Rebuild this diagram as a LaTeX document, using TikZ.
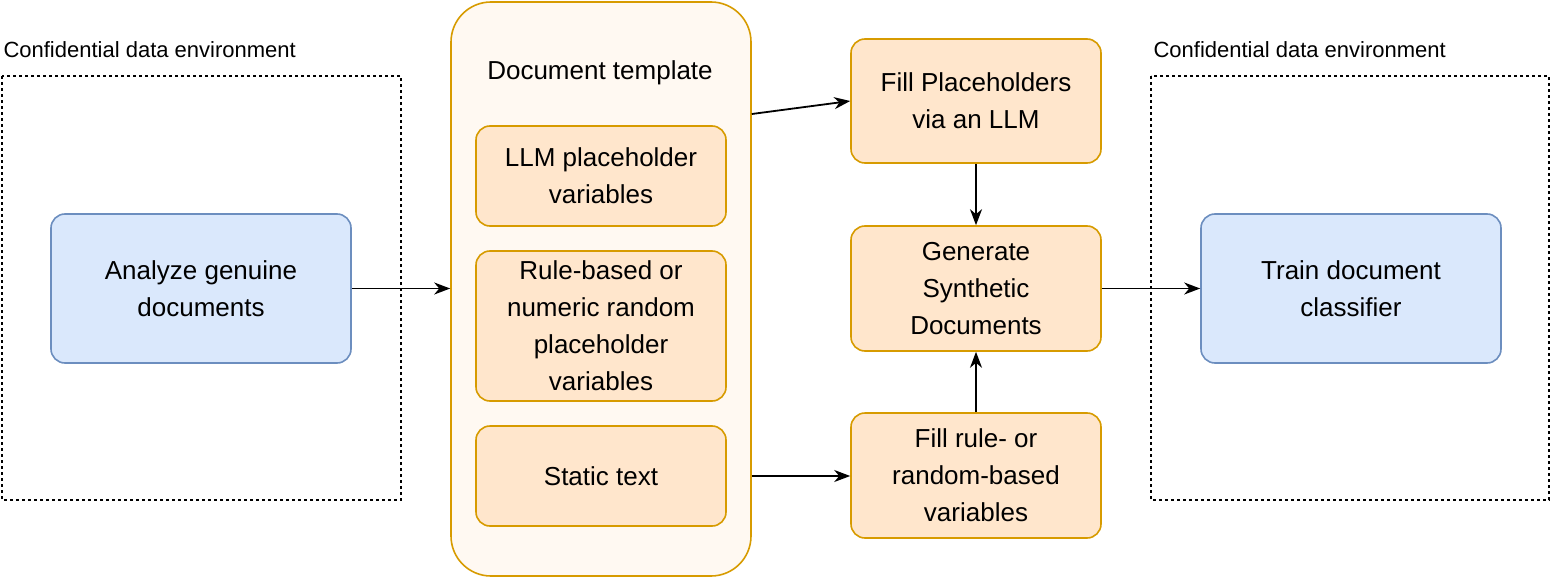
\documentclass[tikz,border=0pt]{standalone}
\usepackage{fontspec}
\setmainfont{Liberation Sans}
\usetikzlibrary{arrows.meta}
\definecolor{bfill}{HTML}{DAE8FC}\definecolor{bdraw}{HTML}{6C8EBF}
\definecolor{ofill}{HTML}{FFE6CC}\definecolor{odraw}{HTML}{D79B00}
\definecolor{tfill}{HTML}{FFF9F2}
\begin{document}
\begin{tikzpicture}[x=1pt,y=-1pt,
  box/.style={draw,line width=1.6pt,rounded corners=14pt,align=center,font=\fontsize{26}{37}\selectfont},
  blue/.style={box,fill=bfill,draw=bdraw},
  org/.style={box,fill=ofill,draw=odraw},
  env/.style={draw,dashed,line width=1.6pt},
  lbl/.style={anchor=west,font=\fontsize{22}{26}\selectfont},
  arr/.style={-{Stealth[length=16pt,width=12pt,inset=5pt]},line width=1.8pt}]
\useasboundingbox (0,0) rectangle (1553,578);
\draw[env] (2,76) rectangle (401,500);
\draw[env] (1151,76) rectangle (1549,500);
\node[lbl] (l1) at (0,50) {Confidential data environment};
\node[lbl] (l2) at (1150,50) {Confidential data environment};
\node[blue,minimum width=300pt,minimum height=149pt] (an) at (201,288.5) {Analyze genuine\\documents};
\node[blue,minimum width=300pt,minimum height=149pt] (tr) at (1351,288.5) {Train document\\classifier};
\node[box,fill=tfill,draw=odraw,rounded corners=40pt,minimum width=300pt,minimum height=574pt] (tp) at (601,289) {};
\node[font=\fontsize{26}{37}\selectfont] (tt) at (600,73) {Document template};
\node[org,minimum width=250pt,minimum height=100pt] (v1) at (601,176) {LLM placeholder\\variables};
\node[org,minimum width=250pt,minimum height=150pt] (v2) at (601,326) {Rule-based or\\numeric random\\placeholder\\variables};
\node[org,minimum width=250pt,minimum height=100pt] (v3) at (601,476) {Static text};
\node[org,minimum width=250pt,minimum height=124pt] (fp) at (976,101) {Fill Placeholders\\via an LLM};
\node[org,minimum width=250pt,minimum height=125pt] (gs) at (976,288.5) {Generate\\Synthetic\\Documents};
\node[org,minimum width=250pt,minimum height=125pt] (fr) at (976,475.5) {Fill rule- or\\random-based\\variables};
\draw[arr] (an.east) -- (an.east -| tp.west);
\draw[arr] ([yshift=-13pt]tp.east |- fp.west) -- (fp.west);
\draw[arr] (tp.east |- v3.east) -- (fr.west |- v3.east);
\draw[arr] (fp.south) -- (gs.north);
\draw[arr] (fr.north) -- (gs.south);
\draw[arr] (gs.east) -- (tr.west |- gs.east);
\end{tikzpicture}
\end{document}
